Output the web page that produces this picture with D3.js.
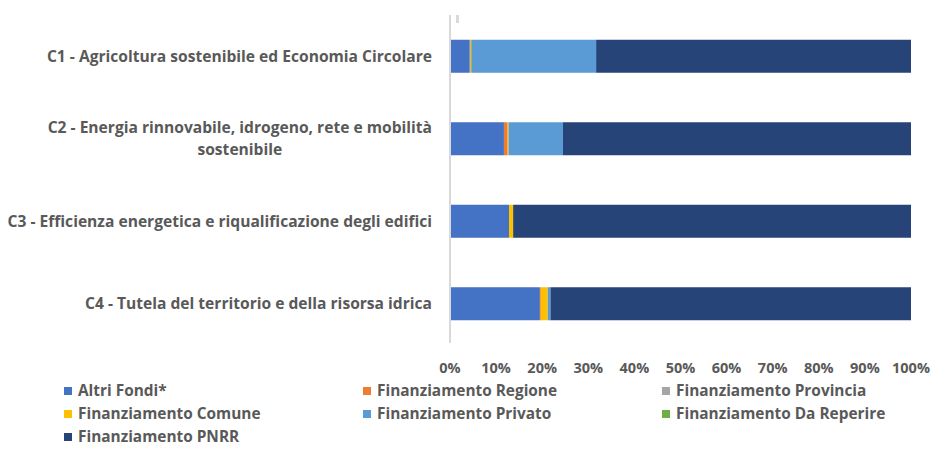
<!DOCTYPE html>
<html>
<head>
<meta charset="utf-8">
<script src="https://cdn.jsdelivr.net/npm/d3@7"></script>
<style>
  body { margin: 0; background: #fff; }
  text { font-family: "Open Sans", Lato, sans-serif; font-weight: bold; fill: #595959; }
</style>
</head>
<body>
<div id="chart"></div>
<script>
// categories (each label split into lines)
var categories = [
    ["C1 - Agricoltura sostenibile ed Economia Circolare"],
    ["C2 - Energia rinnovabile, idrogeno, rete e mobilità", "sostenibile"],
    ["C3 - Efficienza energetica e riqualificazione degli edifici"],
    ["C4 - Tutela del territorio e della risorsa idrica"]
];
var seriesNames = ["Altri Fondi*", "Finanziamento Regione", "Finanziamento Provincia",
    "Finanziamento Comune", "Finanziamento Privato", "Finanziamento Da Reperire", "Finanziamento PNRR"];
var seriesColors = ["#4472C4", "#ED7D31", "#A5A5A5", "#FFC000", "#5B9BD5", "#70AD47", "#264478"];

// percent shares per category (C1..C4)
var altriFondi = [4.3, 11.7, 12.8, 19.5];
var regione    = [0, 0.8, 0, 0.2];
var provincia  = [0, 0, 0, 0];
var comune     = [0.3, 0.2, 0.9, 1.5];
var privato    = [27.1, 11.8, 0, 0.6];
var daReperire = [0, 0, 0, 0];
var pnrr       = [68.3, 75.5, 86.3, 78.2];

var tickValues = [0, 10, 20, 30, 40, 50, 60, 70, 80, 90, 100];

var seriesValues = [altriFondi, regione, provincia, comune, privato, daReperire, pnrr];

var rows = categories.map(function(c, i) {
    var r = {idx: i};
    seriesNames.forEach(function(s, j) { r[s] = seriesValues[j][i]; });
    return r;
});

var W = 932, H = 453;
var margin = {top: 15, right: 21, bottom: 108, left: 450};
var width = W - margin.left - margin.right,
    height = H - margin.top - margin.bottom;

var svg = d3.select("#chart").append("svg")
    .attr("width", W)
    .attr("height", H)
    .append("g")
    .attr("transform", "translate(" + margin.left + "," + margin.top + ")");

var x = d3.scaleLinear().domain([0, 100]).range([0, width]);
var y = d3.scaleBand()
    .domain(d3.range(categories.length))
    .range([0, height])
    .paddingInner(0.6)
    .paddingOuter(0.3);

var stack = d3.stack().keys(seriesNames);
var layers = stack(rows);

svg.selectAll(".layer")
    .data(layers)
    .enter()
    .append("g")
    .attr("class", "layer")
    .attr("fill", function(d, i) { return seriesColors[i]; })
    .selectAll("rect")
    .data(function(d) { return d; })
    .enter()
    .append("rect")
    .attr("x", function(d) { return x(d[0]); })
    .attr("y", function(d) { return y(d.data.idx); })
    .attr("width", function(d) { return x(d[1]) - x(d[0]); })
    .attr("height", y.bandwidth());

// category axis line
svg.append("line")
    .attr("x1", 0).attr("x2", 0)
    .attr("y1", 0).attr("y2", height - 2)
    .style("stroke", "#d9d9d9")
    .style("stroke-width", "2px");

// small grey stub near the top of the axis
svg.append("rect")
    .attr("x", 6).attr("y", 0)
    .attr("width", 3).attr("height", 8)
    .attr("fill", "#d9d9d9");

// category labels
var labels = svg.selectAll(".cat")
    .data(categories)
    .enter()
    .append("text")
    .attr("class", "cat")
    .attr("text-anchor", "end")
    .style("font-size", "15.6px");

labels.each(function(lines, i) {
    var t = d3.select(this);
    var cy = y(i) + y.bandwidth() / 2;
    var n = lines.length;
    lines.forEach(function(l, k) {
        t.append("tspan")
            .attr("x", -18)
            .attr("y", cy + (k - (n - 1) / 2) * 22)
            .attr("dy", "0.35em")
            .text(l);
    });
});
// centre wrapped second line under the first
labels.each(function(lines) {
    if (lines.length < 2) return;
    var ts = d3.select(this).selectAll("tspan").nodes();
    var w0 = ts[0].getComputedTextLength();
    d3.select(ts[1]).attr("x", -18 - w0 / 2).attr("text-anchor", "middle");
});

// value axis ticks (labels only)
svg.append("g")
    .selectAll("text")
    .data(tickValues)
    .enter()
    .append("text")
    .attr("x", function(d) { return x(d); })
    .attr("y", height + 23)
    .attr("dy", "0.35em")
    .attr("text-anchor", "middle")
    .style("font-size", "14.5px")
    .text(function(d) { return d + "%"; });

// legend
var legend = d3.select("svg").append("g")
    .attr("transform", "translate(64,391)");
var item = legend.selectAll("g")
    .data(seriesNames)
    .enter()
    .append("g")
    .attr("transform", function(d, i) {
        return "translate(" + ((i % 3) * 299) + "," + (Math.floor(i / 3) * 23) + ")";
    });
item.append("rect")
    .attr("x", 0).attr("y", -4)
    .attr("width", 8).attr("height", 8)
    .attr("fill", function(d, i) { return seriesColors[i]; });
item.append("text")
    .attr("x", 14)
    .attr("dy", "0.35em")
    .style("font-size", "15.4px")
    .text(function(d) { return d; });
</script>
</body>
</html>
